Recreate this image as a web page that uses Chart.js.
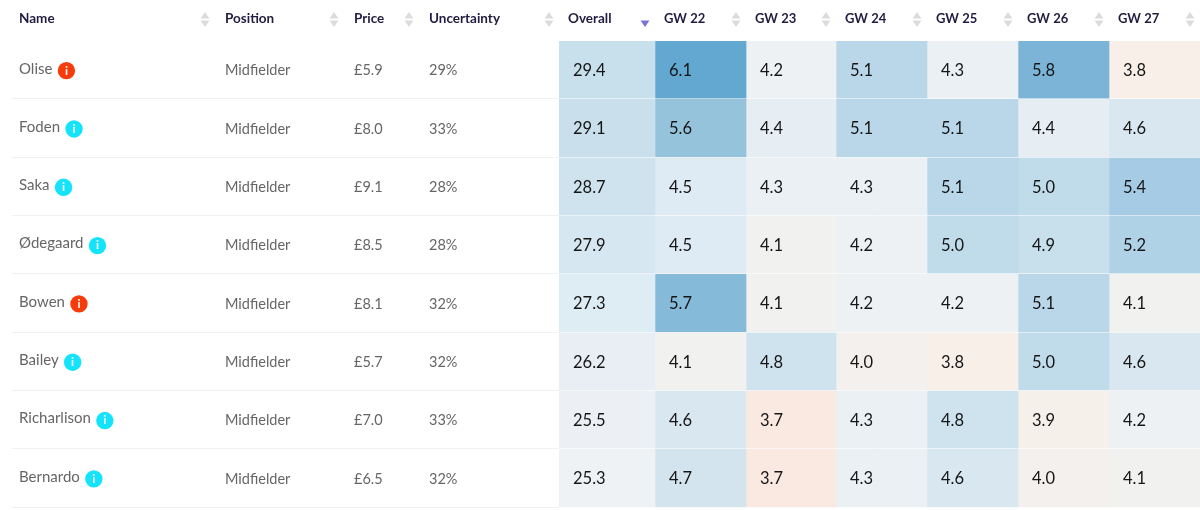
<!DOCTYPE html>
<html>
<head>
<meta charset="utf-8">
<title>Player projections</title>
<script src="https://cdn.jsdelivr.net/npm/chart.js@4/dist/chart.umd.min.js"></script>
<style>
  html, body { margin: 0; padding: 0; background: #fff; }
  #table { display: block; }
</style>
</head>
<body>
<canvas id="table" width="1200" height="510"></canvas>
<script>
// Table values
const players = ['Olise', 'Foden', 'Saka', 'Ødegaard', 'Bowen', 'Bailey', 'Richarlison', 'Bernardo'];
const badges = ['red', 'cyan', 'cyan', 'cyan', 'red', 'cyan', 'cyan', 'cyan'];
const positions = ['Midfielder', 'Midfielder', 'Midfielder', 'Midfielder', 'Midfielder', 'Midfielder', 'Midfielder', 'Midfielder'];
const prices = ['£5.9', '£8.0', '£9.1', '£8.5', '£8.1', '£5.7', '£7.0', '£6.5'];
const uncertainty = ['29%', '33%', '28%', '28%', '32%', '32%', '33%', '32%'];

const overall = [29.4, 29.1, 28.7, 27.9, 27.3, 26.2, 25.5, 25.3];
const gw22 = [6.1, 5.6, 4.5, 4.5, 5.7, 4.1, 4.6, 4.7];
const gw23 = [4.2, 4.4, 4.3, 4.1, 4.1, 4.8, 3.7, 3.7];
const gw24 = [5.1, 5.1, 4.3, 4.2, 4.2, 4.0, 4.3, 4.3];
const gw25 = [4.3, 5.1, 5.1, 5.0, 4.2, 3.8, 4.8, 4.6];
const gw26 = [5.8, 4.4, 5.0, 4.9, 5.1, 5.0, 3.9, 4.0];
const gw27 = [3.8, 4.6, 5.4, 5.2, 4.1, 4.6, 4.2, 4.1];

const heatHeaders = ['Overall', 'GW 22', 'GW 23', 'GW 24', 'GW 25', 'GW 26', 'GW 27'];
const heatValues = [overall, gw22, gw23, gw24, gw25, gw26, gw27];
const heatWidths = [96, 91, 90, 91, 91, 91, 91];

// Colour ramps, value -> colour
const gwRamp = {
    '3.7': '#f9e9e1', '3.8': '#f7efe8', '3.9': '#f6f0ea', '4': '#f4f0ed', '4.1': '#f1f1f0',
    '4.2': '#eef1f4', '4.3': '#eaf0f3', '4.4': '#e6edf3', '4.5': '#deebf4', '4.6': '#d9e7f0',
    '4.7': '#d3e4ef', '4.8': '#cfe3ef', '4.9': '#c8dfec', '5': '#c0dbea', '5.1': '#b9d7e9',
    '5.2': '#b0d2e7', '5.4': '#a5cce4', '5.6': '#95c3dc', '5.7': '#86bad9', '5.8': '#7bb4d6',
    '6.1': '#62a8d1'
};
const overallRamp = {
    '29.4': '#c8e0ec', '29.1': '#c9e0ec', '28.7': '#cfe3ef', '27.9': '#d6e7f1',
    '27.3': '#deecf4', '26.2': '#e8eef3', '25.5': '#ecf0f5', '25.3': '#eef2f5'
};

const heatDatasets = heatHeaders.map((header, c) => ({
    label: header,
    data: players.map(() => heatWidths[c]),
    backgroundColor: heatValues[c].map(v => (c === 0 ? overallRamp : gwRamp)[String(v)]),
    borderWidth: 0,
    barPercentage: 1,
    categoryPercentage: 1
}));

const nameFont = '15px Lato';
const bodyFont = '14.5px Lato';
const headFont = 'bold 13.5px Lato';
const gwHeadFont = 'bold 13px Lato';
const cellFont = '16.5px Lato';
const headInk = '#211c40';
const bodyInk = '#666666';
const cellInk = '#161616';
const badgeColors = { red: '#f53c0a', cyan: '#14e3fb' };

function sortArrows(ctx, x, active) {
    ctx.fillStyle = active ? '#7b72d6' : '#dcdcdc';
    if (!active) {
        ctx.beginPath();
        ctx.moveTo(x, 12); ctx.lineTo(x + 4.5, 18.5); ctx.lineTo(x - 4.5, 18.5);
        ctx.fill();
    }
    ctx.beginPath();
    ctx.moveTo(x - 4.5, 20.5); ctx.lineTo(x + 4.5, 20.5); ctx.lineTo(x, 27);
    ctx.fill();
}

const tablePlugin = {
    id: 'tablePlugin',
    afterDatasetsDraw(chart) {
        const ctx = chart.ctx;
        const xs = chart.scales.x;
        const ys = chart.scales.y;
        const area = chart.chartArea;
        ctx.save();
        ctx.textBaseline = 'middle';
        ctx.textAlign = 'left';

        // row separators
        players.forEach((p, i) => {
            const yLine = Math.round(ys.getPixelForValue(i) + (ys.getPixelForValue(1) - ys.getPixelForValue(0)) / 2) - 0.5;
            ctx.lineWidth = 1;
            ctx.strokeStyle = '#f1f1f3';
            ctx.beginPath(); ctx.moveTo(12, yLine); ctx.lineTo(area.left, yLine); ctx.stroke();
            ctx.strokeStyle = 'rgba(255,255,255,0.55)';
            ctx.beginPath(); ctx.moveTo(area.left, yLine); ctx.lineTo(area.right, yLine); ctx.stroke();
        });

        // left header
        ctx.font = headFont;
        [['Name', 19, 205], ['Position', 225, 334], ['Price', 354, 409], ['Uncertainty', 429, 549]].forEach(h => {
            ctx.fillStyle = headInk;
            ctx.fillText(h[0], h[1], 19);
            sortArrows(ctx, h[2], false);
        });

        // left columns
        players.forEach((name, i) => {
            const y = ys.getPixelForValue(i);
            ctx.font = bodyFont;
            ctx.fillStyle = bodyInk;
            ctx.fillText(positions[i], 225, y + 0.5);
            ctx.fillText(prices[i], 354, y + 0.5);
            ctx.fillText(uncertainty[i], 429, y + 0.5);
            ctx.font = nameFont;
            ctx.fillText(name, 19, y - 1.5);

            const bx = 19 + ctx.measureText(name).width + 14;
            ctx.fillStyle = badgeColors[badges[i]];
            ctx.beginPath(); ctx.arc(bx, y + 0.5, 8.7, 0, Math.PI * 2); ctx.fill();
            ctx.fillStyle = '#fff';
            ctx.textAlign = 'center';
            ctx.font = 'bold 12px Lato';
            ctx.fillText('i', bx, y + 0.5);
            ctx.textAlign = 'left';
        });

        // heat columns
        let run = 0;
        heatHeaders.forEach((header, c) => {
            const left = xs.getPixelForValue(run);
            const right = xs.getPixelForValue(run + heatWidths[c]);
            ctx.font = c === 0 ? headFont : gwHeadFont;
            ctx.fillStyle = headInk;
            ctx.fillText(header, left + 9, 19);
            sortArrows(ctx, right - 10, c === 0);
            ctx.font = cellFont;
            ctx.fillStyle = cellInk;
            heatValues[c].forEach((v, i) => {
                ctx.fillText(v.toFixed(1), left + 14, ys.getPixelForValue(i) + 0.5);
            });
            run += heatWidths[c];
        });
        ctx.restore();
    }
};

new Chart(document.getElementById('table'), {
    type: 'bar',
    data: { labels: players, datasets: heatDatasets },
    options: {
        indexAxis: 'y',
        responsive: false,
        animation: false,
        layout: { padding: { left: 559, top: 41, bottom: 2.5, right: 0 } },
        plugins: { legend: { display: false }, tooltip: { enabled: false } },
        scales: {
            x: { stacked: true, display: false, min: 0, max: 641 },
            y: { stacked: true, display: false }
        }
    },
    plugins: [tablePlugin]
});
</script>
</body>
</html>
